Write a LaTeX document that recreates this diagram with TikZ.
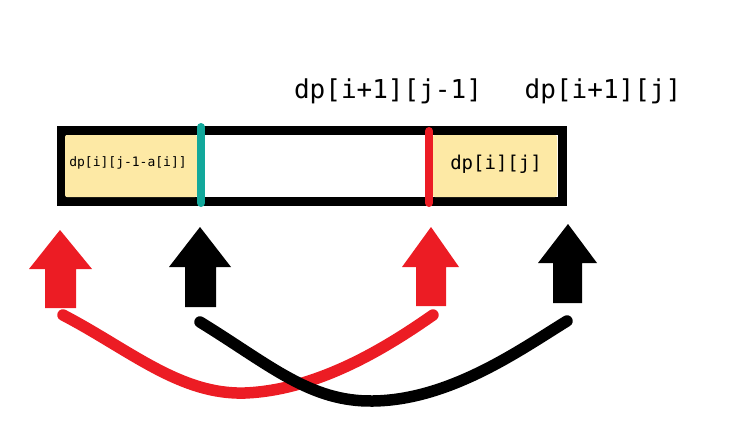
\documentclass[tikz,border=0pt]{standalone}
\usepackage{fontspec}
\newfontfamily\monofnt{DejaVu Sans Mono}
\definecolor{myred}{HTML}{EC1C24}
\definecolor{myteal}{HTML}{12A89B}
\definecolor{myyellow}{HTML}{FDE9A5}
\tikzset{
  cell/.style={fill=myyellow, rounded corners=2pt},
  lbl/.style={font=\monofnt, inner sep=0pt, text=black},
  curve/.style={line width=11.5pt, line cap=round},
}
\begin{document}
\begin{tikzpicture}[x=1pt,y=-1pt]
\useasboundingbox (0,0) rectangle (743,420);
% array box
\draw[line width=9pt] (61.5,130.5) rectangle (562.5,201);
\fill[cell] (65,135) rectangle (197,197);
\fill[cell] (433,135) rectangle (557,197);
\draw[myteal, line width=8pt, line cap=round] (201,127) -- (201,203);
\draw[myred, line width=8pt, line cap=round] (429,131) -- (429,203);
% labels
\node[lbl, font=\monofnt\fontsize{13}{15}\selectfont] (small) at (128,163) {dp[i][j-1-a[i]]};
\node[lbl, font=\monofnt\fontsize{19}{22}\selectfont] (dpij) at (496,164) {dp[i][j]};
\node[lbl, font=\monofnt\fontsize{26}{30}\selectfont] (top1) at (388,91) {dp[i+1][j-1]};
\node[lbl, font=\monofnt\fontsize{26}{30}\selectfont] (top2) at (603,91) {dp[i+1][j]};
% arrows
\fill[myred] (60,230) -- (92,269) -- (76,269) -- (76,308) -- (45,308) -- (45,269) -- (29,269) -- cycle;
\fill[black] (200,227) -- (231,267) -- (216,267) -- (216,307) -- (185,307) -- (185,267) -- (169,267) -- cycle;
\fill[myred] (431,227) -- (459,267) -- (446,267) -- (446,306) -- (416,306) -- (416,267) -- (402,267) -- cycle;
\fill[black] (568,224) -- (597,263) -- (582,263) -- (582,303) -- (553,303) -- (553,263) -- (538,263) -- cycle;
% curve end points
\coordinate (r1) at (63,315);
\coordinate (r2) at (433,315);
\coordinate (b1) at (200,322);
\coordinate (b2) at (567,321);
\draw[curve, myred] (r1) .. controls (130,350) and (180,395) .. (245,393) .. controls (320,390) and (390,345) .. (r2);
\draw[curve, black] (b1) .. controls (270,365) and (310,402) .. (373,401) .. controls (450,400) and (520,350) .. (b2);
\end{tikzpicture}
\end{document}
